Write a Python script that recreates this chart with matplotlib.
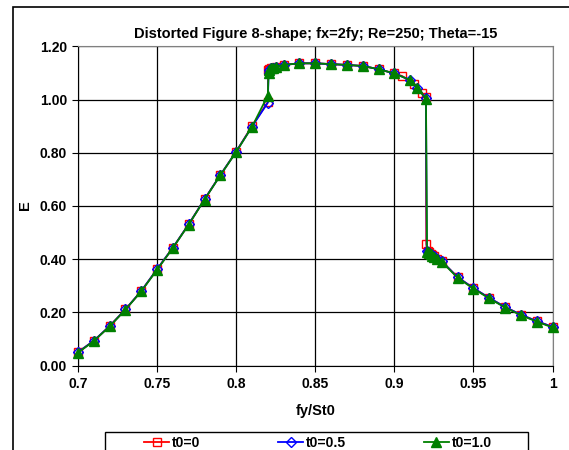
import matplotlib
matplotlib.use('Agg')
import matplotlib.pyplot as plt
from matplotlib.patches import Rectangle

plt.rcParams['font.family'] = ['Liberation Sans', 'DejaVu Sans']
plt.rcParams['font.weight'] = 'bold'

# t0 = 0
x_a = [0.70, 0.71, 0.72, 0.73, 0.74, 0.75, 0.76, 0.77, 0.78, 0.79, 0.80, 0.81,
       0.82, 0.8202, 0.821, 0.822, 0.823, 0.825, 0.83, 0.84, 0.85, 0.86, 0.87, 0.88,
       0.89, 0.90, 0.905, 0.9125, 0.9175, 0.92, 0.9202, 0.921, 0.922, 0.923,
       0.924, 0.925, 0.927, 0.93, 0.94, 0.95, 0.96, 0.97, 0.98, 0.99, 1.00]
e_a = [0.050, 0.093, 0.148, 0.211, 0.280, 0.362, 0.443, 0.531, 0.625, 0.716, 0.804, 0.900,
       0.990, 1.110, 1.115, 1.118, 1.120, 1.124, 1.130, 1.136, 1.136, 1.133, 1.130, 1.126,
       1.114, 1.098, 1.088, 1.060, 1.023, 1.010, 0.456, 0.432, 0.426, 0.420,
       0.415, 0.410, 0.402, 0.392, 0.332, 0.291, 0.254, 0.220, 0.191, 0.167, 0.145]

# t0 = 0.5
x_b = [0.70, 0.71, 0.72, 0.73, 0.74, 0.75, 0.76, 0.77, 0.78, 0.79, 0.80, 0.81,
       0.82, 0.8205, 0.821, 0.822, 0.823, 0.825, 0.83, 0.84, 0.85, 0.86, 0.87, 0.88,
       0.89, 0.90, 0.91, 0.9143, 0.92, 0.9205, 0.921, 0.922, 0.923,
       0.924, 0.925, 0.927, 0.93, 0.94, 0.95, 0.96, 0.97, 0.98, 0.99, 1.00]
e_b = [0.050, 0.093, 0.148, 0.211, 0.280, 0.362, 0.443, 0.531, 0.625, 0.716, 0.804, 0.898,
       0.988, 1.100, 1.112, 1.117, 1.120, 1.124, 1.130, 1.136, 1.136, 1.133, 1.130, 1.126,
       1.114, 1.098, 1.073, 1.045, 1.005, 0.430, 0.428, 0.424, 0.420,
       0.415, 0.410, 0.402, 0.392, 0.332, 0.291, 0.254, 0.220, 0.191, 0.167, 0.145]

# t0 = 1.0
x_c = [0.70, 0.71, 0.72, 0.73, 0.74, 0.75, 0.76, 0.77, 0.78, 0.79, 0.80, 0.81,
       0.82, 0.8205, 0.821, 0.822, 0.823, 0.825, 0.83, 0.84, 0.85, 0.86, 0.87, 0.88,
       0.89, 0.90, 0.91, 0.9143, 0.92, 0.9207, 0.921, 0.922, 0.923,
       0.924, 0.925, 0.927, 0.93, 0.94, 0.95, 0.96, 0.97, 0.98, 0.99, 1.00]
e_c = [0.048, 0.092, 0.147, 0.210, 0.279, 0.360, 0.442, 0.530, 0.624, 0.715, 0.803, 0.897,
       1.015, 1.100, 1.112, 1.117, 1.120, 1.124, 1.130, 1.136, 1.136, 1.133, 1.130, 1.126,
       1.114, 1.098, 1.073, 1.045, 1.003, 0.428, 0.426, 0.422, 0.418,
       0.413, 0.408, 0.400, 0.390, 0.330, 0.289, 0.252, 0.218, 0.189, 0.165, 0.143]

x_ticks = [0.7, 0.75, 0.8, 0.85, 0.9, 0.95, 1.0]
x_labels = ['0.7', '0.75', '0.8', '0.85', '0.9', '0.95', '1']
y_ticks = [0.0, 0.2, 0.4, 0.6, 0.8, 1.0, 1.2]

W, H = 569, 450
fig = plt.figure(figsize=(W / 100, H / 100), dpi=100)
ax = fig.add_axes([78 / W, 1 - 365.5 / H, 474.5 / W, 319.2 / H])

# outer chart border (extends past the image on right and bottom)
fig.patches.append(Rectangle((13 / W, -0.1), 1.2, 1 - 7 / H + 0.1, transform=fig.transFigure,
                             fill=False, edgecolor='black', linewidth=1.2, clip_on=False))
# legend frame, drawn separately so the entries can sit centred inside it
fig.patches.append(Rectangle((105 / W, -0.05), 423 / W, 1 - 432 / H + 0.05,
                             transform=fig.transFigure, fill=False, edgecolor='black',
                             linewidth=1.0, clip_on=False))

ax.plot(x_a, e_a, color='#FF0000', lw=1.3, marker='s', ms=6, mfc='none',
        mec='#FF0000', mew=1.0, label='t0=0', zorder=3, clip_on=False)
ax.plot(x_b, e_b, color='#0000FF', lw=1.3, marker='D', ms=5, mfc='none',
        mec='#0000FF', mew=1.0, label='t0=0.5', zorder=4, clip_on=False)
ax.plot(x_c, e_c, color='#008000', lw=1.3, marker='^', ms=7, mfc='#008000',
        mec='#008000', label='t0=1.0', zorder=5, clip_on=False)

ax.set_xlim(0.7, 1.0)
ax.set_ylim(0, 1.2)
ax.set_xticks(x_ticks)
ax.set_xticklabels(x_labels)
ax.set_yticks(y_ticks)
ax.set_yticklabels([f'{v:.2f}' for v in y_ticks])
ax.tick_params(labelsize=10, length=4, width=0.8, direction='out', pad=4)
ax.grid(True, color='black', linewidth=0.9)
ax.set_axisbelow(True)
for s in ['top', 'right']:
    ax.spines[s].set_color('#808080')
for s in ['left', 'bottom']:
    ax.spines[s].set_color('black')

ax.set_title('Distorted Figure 8-shape; fx=2fy; Re=250; Theta=-15',
             fontsize=10.5, fontweight='bold', pad=6)
ax.set_xlabel('fy/St0', fontsize=10.5, fontweight='bold', labelpad=10)
fig.text(25 / W, 1 - 205 / H, 'E', rotation=90, fontsize=10.5, fontweight='bold',
         ha='center', va='center')

leg = fig.legend(loc='upper center', bbox_to_anchor=(318 / W, 1 - 433 / H),
                 bbox_transform=fig.transFigure, ncol=3, frameon=False,
                 fontsize=10, handlelength=1.8, handletextpad=0.2,
                 columnspacing=5.6, borderaxespad=0, borderpad=0.2)

fig.savefig('out.png', dpi=100)
